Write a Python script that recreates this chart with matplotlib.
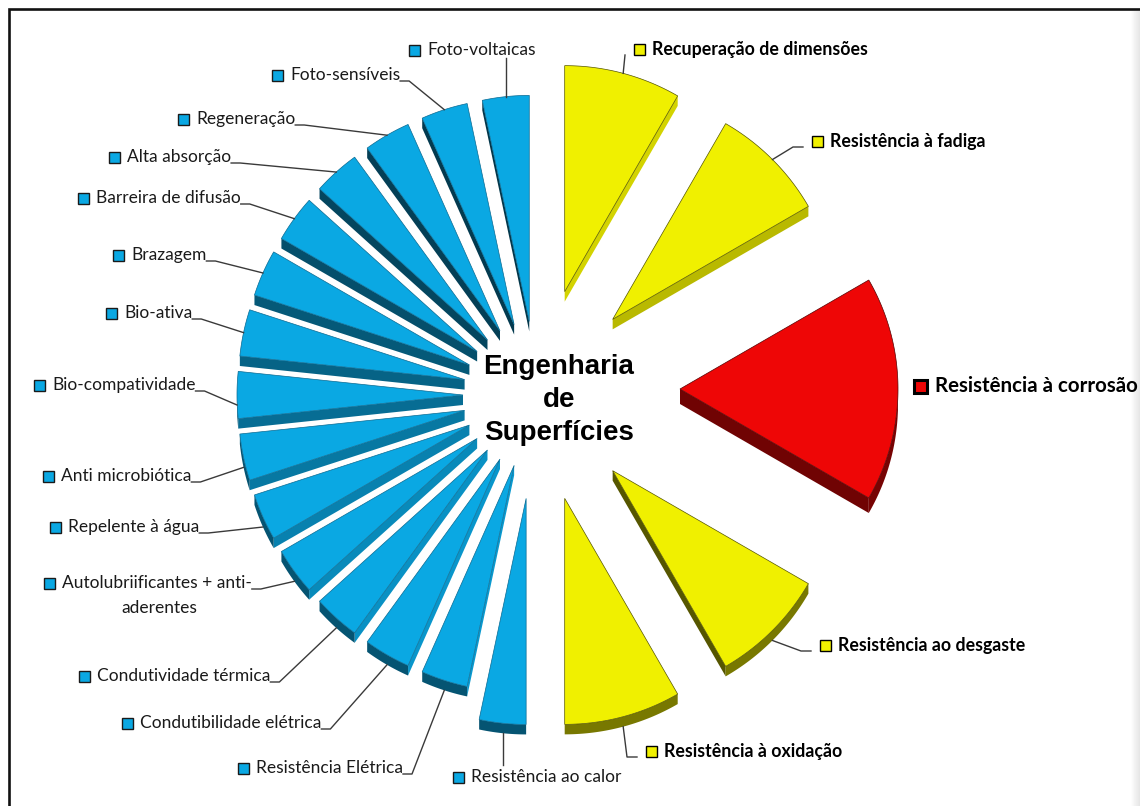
import numpy as np
import matplotlib.pyplot as plt
from matplotlib.patches import Polygon, Rectangle
from matplotlib.colors import to_rgb

# right half: mechanical / chemical properties
right_labels = ["Recuperação de dimensões", "Resistência à fadiga",
                "Resistência à corrosão", "Resistência ao desgaste",
                "Resistência à oxidação"]
right_values = [2.5, 2.5, 5, 2.5, 2.5]
right_colors = ["#F0F000", "#F0F000", "#EE0606", "#F0F000", "#F0F000"]

# left half: functional properties, listed bottom -> top
left_labels = ["Resistência ao calor", "Resistência Elétrica",
               "Condutibilidade elétrica", "Condutividade térmica",
               "Autolubriificantes + anti-\naderentes", "Repelente à água",
               "Anti microbiótica", "Bio-compatividade", "Bio-ativa",
               "Brazagem", "Barreira de difusão", "Alta absorção",
               "Regeneração", "Foto-sensíveis", "Foto-voltaicas"]
left_values = [1] * 15
BLUE = "#0AA8E3"

title_lines = ["Engenharia", "de", "Superfícies"]

W, H = 1140, 806
CX, CY = 537, 395
R = 226

labels = right_labels + left_labels
values = np.array(right_values + left_values, dtype=float)
colors = right_colors + [BLUE] * len(left_values)
explode = [107, 107, 143, 107, 107] + [104] + [74] * 14
radius = [R, R, 218, R, R] + [R] * 15
depth = [10, 10, 15, 10, 10] + [10] * 15
lift = [0, 0, -6, 0, 0] + [0] * 15

bounds = np.concatenate([[0], np.cumsum(values)]) / values.sum() * 360.0

fig = plt.figure(figsize=(W / 100, H / 100), dpi=100)
ax = fig.add_axes([0, 0, 1, 1])
ax.set_xlim(0, W)
ax.set_ylim(H, 0)
ax.axis("off")


def polar(theta, r, ox, oy):
    t = np.radians(theta)
    return np.column_stack([ox + r * np.sin(t), oy - r * np.cos(t)])


def shade(c, s):
    return tuple(np.clip(np.array(to_rgb(c)) * s, 0, 1))


anchors = []
for i in range(len(values)):
    t1, t2 = bounds[i], bounds[i + 1]
    mid = 0.5 * (t1 + t2)
    apex = polar(mid, explode[i], CX, CY + lift[i])[0]
    th = np.linspace(t1, t2, 80)
    arc = polar(th, radius[i], apex[0], apex[1])
    d = np.array([0, depth[i]])
    col = colors[i]

    # radial side faces that point downwards
    for t, end, n in ((t1, arc[0], t1 - 90), (t2, arc[-1], t2 + 90)):
        if np.cos(np.radians(n)) < 0:
            s = 0.62 + 0.3 * np.sin(np.radians(n))
            face = np.array([apex, end, end + d, apex + d])
            ax.add_patch(Polygon(face, closed=True, fc=shade(col, s),
                                 ec="none", zorder=1))
    # outer rim
    down = np.cos(np.radians(th)) < 0
    if down.any():
        rim = arc[down]
        face = np.vstack([rim, (rim + d)[::-1]])
        ax.add_patch(Polygon(face, closed=True, fc=shade(col, 0.5),
                             ec="none", zorder=1))

    top = np.vstack([apex, arc])
    ec = "#0A6A92" if col == BLUE else shade(col, 0.35)
    ax.add_patch(Polygon(top, closed=True, fc=col, ec=ec, lw=0.5, zorder=2))

    tip = polar(mid, radius[i], apex[0], apex[1])[0]
    if np.cos(np.radians(mid)) < 0:
        tip = tip + d
    anchors.append(tip)

# centre title
for k, line in enumerate(title_lines):
    ax.text(559, 367 + 33 * k, line, ha="center", va="center", fontsize=20,
            fontweight="bold", family="Liberation Sans", color="black",
            zorder=5)

LINE = "#3a3a3a"

# right-hand legend entries
right_sq = [(639, 49), (817, 141), (920, 386), (825, 645), (651, 751)]
for i, (lab, (sx, sy)) in enumerate(zip(right_labels, right_sq)):
    big = i == 2
    sz = 13 if big else 11
    ax.add_patch(Rectangle((sx - sz / 2, sy - sz / 2), sz, sz,
                           fc=right_colors[i], ec="black",
                           lw=2.2 if big else 1.0, zorder=6))
    ax.text(sx + (15 if big else 13), sy, lab, ha="left", va="center",
            fontsize=14.8 if big else 12.8, fontweight="bold", family="Lato",
            color="black", zorder=6)
    if big:
        continue
    a = anchors[i]
    end = (sx - 14, sy + 6)
    if i == 0:
        xs, ys = [a[0], end[0]], [a[1], end[1]]
    else:
        xs, ys = [a[0], end[0] - 10, end[0]], [a[1], end[1], end[1]]
    ax.plot(xs, ys, color=LINE, lw=1.0, zorder=3)

# left-hand legend entries
left_sq = [(458, 777), (243, 768), (127, 723), (84, 676), (49, 583),
           (55, 527), (48, 476), (39, 385), (111, 313), (118, 255),
           (83, 198), (114, 157), (183, 119), (277, 75), (414, 50)]
texts = []
for lab, (sx, sy) in zip(left_labels, left_sq):
    ax.add_patch(Rectangle((sx - 5.5, sy - 5.5), 11, 11, fc=BLUE,
                           ec="#1a1a1a", lw=1.0, zorder=6))
    first, *rest = lab.split("\n")
    t = ax.text(sx + 13, sy, first, ha="left", va="center", fontsize=12.5,
                family="Lato", color="#1a1a1a", zorder=6)
    texts.append(t)
    if rest:
        ax.text(sx + 110, sy + 25, rest[0], ha="center", va="center",
                fontsize=12.5, family="Lato", color="#1a1a1a", zorder=6)

fig.canvas.draw()
inv = ax.transData.inverted()
n_right = len(right_labels)
for j, (t, (sx, sy)) in enumerate(zip(texts, left_sq)):
    a = anchors[n_right + j]
    if j == 0:
        ax.plot([a[0], a[0]], [a[1], sy - 12], color=LINE, lw=1.0, zorder=3)
        continue
    if j == len(texts) - 1:
        ax.plot([a[0], a[0]], [a[1], sy + 8], color=LINE, lw=1.0, zorder=3)
        continue
    bb = t.get_window_extent()
    xr = inv.transform((bb.x1, bb.y0))[0]
    y = sy + 6
    ax.plot([a[0], xr + 9, xr], [a[1], y, y], color=LINE, lw=1.0, zorder=3)

# frame and right-edge shadow
ax.plot([9, 9, W], [H, 9, 9], color="#111111", lw=1.9, zorder=7,
        solid_joinstyle="miter", clip_on=False)
grad = np.linspace(1.0, 0.9, 10)[None, :].repeat(2, axis=0)
ax.imshow(grad, cmap="gray", vmin=0, vmax=1, extent=[1130, 1140, H, 11],
          aspect="auto", zorder=0)
ax.set_xlim(0, W)
ax.set_ylim(H, 0)

fig.savefig("out.png", dpi=100)
